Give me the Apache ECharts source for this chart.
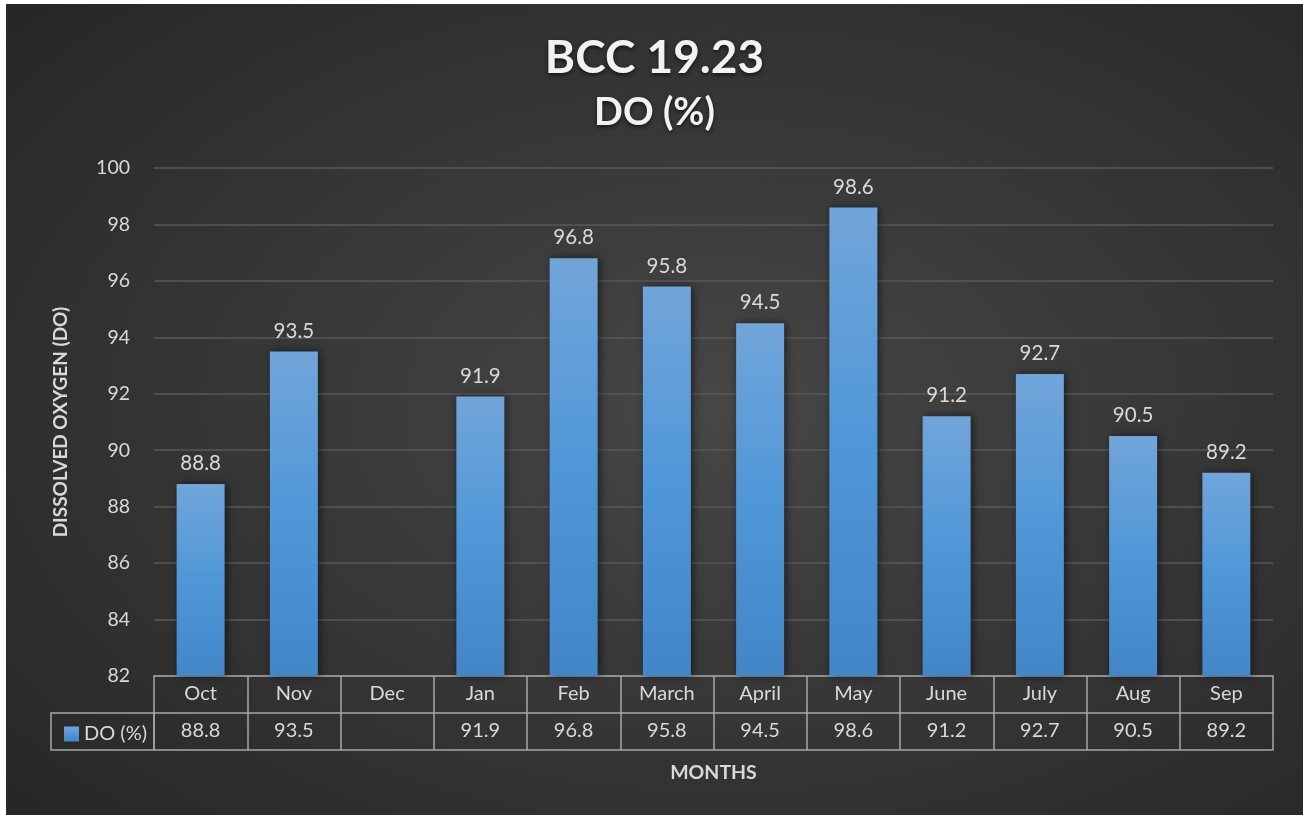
<!DOCTYPE html>
<html>
<head>
<meta charset="utf-8">
<script src="https://cdn.jsdelivr.net/npm/echarts@6/dist/echarts.min.js"></script>
<style>
html,body{margin:0;padding:0;background:#ffffff;width:1303px;height:815px;overflow:hidden;}
#chart{position:absolute;left:6px;top:4px;width:1297px;height:811px;
background:radial-gradient(ellipse 75% 75% at 55% 50%, #474747 0%, #383838 45%, #262626 100%);}
</style>
</head>
<body>
<div id="chart"></div>
<script>
var titleMain = 'BCC 19.23';
var titleSub = 'DO (%)';
var seriesName = 'DO (%)';
var months = ['Oct','Nov','Dec','Jan','Feb','March','April','May','June','July','Aug','Sep'];
var doValues = [88.8, 93.5, null, 91.9, 96.8, 95.8, 94.5, 98.6, 91.2, 92.7, 90.5, 89.2];
var yMin = 82, yMax = 100, yStep = 2;
var yTitle = 'DISSOLVED OXYGEN (DO)';
var xTitle = 'MONTHS';

var FONT = 'Lato, "Open Sans", sans-serif';
var tableLine = {color:'#a6a6a6', width:1.5};
var tableCells = doValues.map(function(v){ return v == null ? '' : v.toFixed(1); });

var chart = echarts.init(document.getElementById('chart'), null, {renderer:'canvas'});
chart.setOption({
  animation:false,
  textStyle:{fontFamily:FONT},
  title:[
    {text:titleMain, left:'center', top:26, textStyle:{color:'#f2f2f2', fontSize:46, fontWeight:'bold', fontFamily:FONT, textShadowColor:'rgba(0,0,0,0.6)', textShadowBlur:4, textShadowOffsetY:2}},
    {text:titleSub, left:'center', top:85, textStyle:{color:'#f2f2f2', fontSize:38, fontWeight:'bold', fontFamily:FONT, textShadowColor:'rgba(0,0,0,0.6)', textShadowBlur:4, textShadowOffsetY:2}}
  ],
  legend:{
    show:true, left:53, top:715, itemWidth:15, itemHeight:15, itemGap:4,
    icon:'rect',
    textStyle:{color:'#d9d9d9', fontSize:20, fontFamily:FONT},
    data:[seriesName]
  },
  graphic:[
    {type:'rect', shape:{x:45, y:709, width:103, height:37}, style:{fill:'none', stroke:'#a6a6a6', lineWidth:1.5}, silent:true}
  ],
  grid:{left:148, right:30, top:164, bottom:139, containLabel:false},
  xAxis:[
    {type:'category', data:months, position:'bottom',
     axisLine:{show:true, lineStyle:tableLine},
     axisTick:{show:true, interval:0, length:37, lineStyle:tableLine},
     axisLabel:{color:'#d9d9d9', fontSize:20, fontFamily:FONT, margin:8, interval:0},
     splitLine:{show:false}},
    {type:'category', data:tableCells, position:'bottom', offset:37,
     axisLine:{show:true, lineStyle:tableLine},
     axisTick:{show:true, interval:0, length:37, lineStyle:tableLine},
     axisLabel:{color:'#d9d9d9', fontSize:20, fontFamily:FONT, margin:8, interval:0}},
    {type:'category', data:months, position:'bottom', offset:74,
     axisLine:{show:true, lineStyle:tableLine},
     axisTick:{show:false}, axisLabel:{show:false},
     name:xTitle, nameLocation:'middle', nameGap:13,
     nameTextStyle:{color:'#d9d9d9', fontSize:19.5, fontWeight:'bold', fontFamily:FONT}}
  ],
  yAxis:{
    type:'value', min:yMin, max:yMax, interval:yStep,
    axisLine:{show:false}, axisTick:{show:false},
    axisLabel:{color:'#d9d9d9', fontSize:19.5, fontFamily:FONT, margin:24},
    splitLine:{show:true, lineStyle:{color:'#595959', width:1.5}},
    name:yTitle, nameLocation:'middle', nameGap:84, nameRotate:90,
    nameTextStyle:{color:'#d9d9d9', fontSize:19, fontWeight:'bold', fontFamily:FONT}
  },
  series:[{
    name:seriesName, type:'bar', xAxisIndex:0, data:doValues, barWidth:48,
    itemStyle:{
      color:new echarts.graphic.LinearGradient(0,0,0,1,[{offset:0,color:'#71a5da'},{offset:0.5,color:'#5097d8'},{offset:1,color:'#4286c8'}]),
      shadowColor:'rgba(0,0,0,0.55)', shadowBlur:8, shadowOffsetX:2, shadowOffsetY:0
    },
    label:{show:true, position:'top', distance:10, color:'#d9d9d9', fontSize:20.5, fontFamily:FONT,
      formatter:function(p){ return p.value == null ? '' : p.value.toFixed(1); }}
  }]
});
</script>
</body>
</html>
